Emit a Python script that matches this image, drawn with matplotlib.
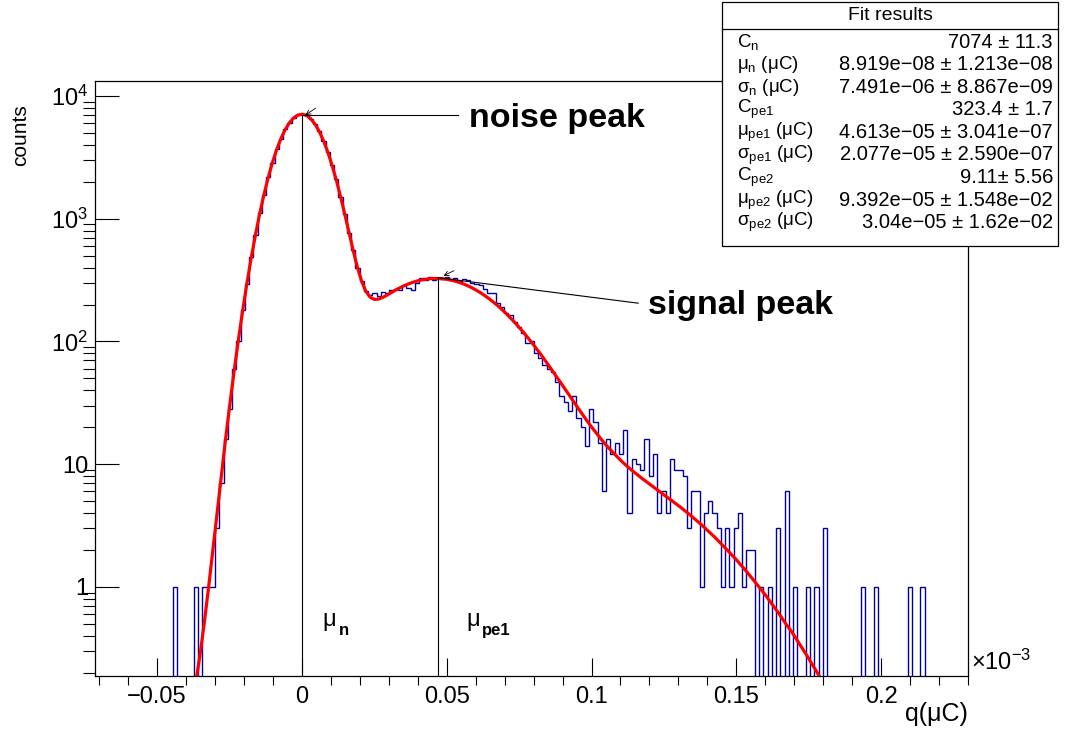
import numpy as np
import matplotlib
matplotlib.use('Agg')
import matplotlib.pyplot as plt
from matplotlib.patches import Rectangle
from matplotlib.lines import Line2D

plt.rcParams['font.family'] = ['Liberation Sans', 'DejaVu Sans']
plt.rcParams['mathtext.fontset'] = 'custom'
plt.rcParams['mathtext.rm'] = 'Liberation Sans'
plt.rcParams['mathtext.it'] = 'Liberation Sans:italic'
plt.rcParams['mathtext.bf'] = 'Liberation Sans:bold'

# x axis is q in units of 1e-3 uC
bin_start = -0.0709
bin_width = 0.001466
n_bins = 205

hist_counts = [
    0, 0, 0, 0, 0, 0, 0, 0, 0, 0,
    0, 0, 0, 0, 0, 0, 0, 0, 1, 0,
    0, 0, 0, 1, 0, 1, 1, 1, 3, 7,
    16, 28, 60, 100, 182, 296, 490, 735, 1110, 1560,
    2190, 2860, 3690, 4480, 5340, 6050, 6650, 6980, 7080, 6960,
    6500, 5880, 5160, 4300, 3520, 2730, 2090, 1510, 1100, 765,
    555, 395, 312, 258, 238, 250, 235, 255, 248, 262,
    268, 262, 290, 275, 262, 298, 330, 315, 335, 318,
    330, 322, 335, 318, 328, 312, 325, 318, 300, 295,
    290, 268, 250, 246, 205, 190, 172, 165, 145, 132,
    118, 97, 100, 80, 73, 64, 60, 56, 47, 36,
    32, 27, 36, 24, 20, 14, 28, 22, 15, 6,
    16, 12, 15, 12, 19, 4, 11, 10, 9, 16,
    8, 12, 4, 6, 4, 11, 9, 9, 8, 3,
    6, 6, 1, 4, 5, 4, 3, 1, 3, 1,
    3, 4, 1, 2, 2, 0, 1, 0, 1, 0,
    3, 0, 6, 0, 1, 0, 0, 1, 0, 1,
    0, 3, 0, 0, 0, 0, 0, 0, 0, 0,
    1, 0, 0, 1, 0, 0, 0, 0, 0, 0,
    0, 1, 0, 0, 1, 0, 0, 0, 0, 0,
    0, 0, 0, 0, 0,
]

# fit curve, read at the bin centres starting at bin 23
fit_first_bin = 23
fit_curve = [
    0.171, 0.288, 0.527, 1.02, 2.05, 4.16, 8.37, 16.5, 31.5, 58.3,
    104.5, 180.3, 300, 480, 741, 1102, 1578, 2171, 2877, 3671,
    4507, 5327, 6062, 6640, 6998, 7102, 6952, 6521, 5904, 5149,
    4326, 3504, 2741, 2075, 1524, 1093, 774, 549, 400, 307.6,
    255, 229, 220.1, 221.6, 228.7, 238.9, 250.4, 262.3, 273.7, 284.5,
    294.3, 303.0, 310.5, 316.6, 321.3, 324.4, 325.9, 325.8, 324.2, 320.9,
    316.1, 310.0, 302.4, 293.7, 283.8, 272.9, 261.3, 248.9, 236.0, 222.6,
    209.1, 195.6, 182.0, 168.7, 155.6, 143.1, 130.9, 119.4, 108.4, 98.1,
    88.5, 79.6, 71.3, 63.8, 56.9, 50.8, 45.2, 40.2, 35.8, 31.8,
    28.35, 25.3, 22.6, 20.3, 18.3, 16.55, 15.0, 13.7, 12.6, 11.6,
    10.7, 9.94, 9.27, 8.67, 8.14, 7.64, 7.20, 6.78, 6.39, 6.03,
    5.69, 5.36, 5.05, 4.75, 4.47, 4.19, 3.93, 3.67, 3.43, 3.20,
    2.97, 2.76, 2.56, 2.36, 2.18, 2.00, 1.84, 1.69, 1.54, 1.41,
    1.28, 1.16, 1.05, 0.95, 0.86, 0.77, 0.69, 0.62, 0.55, 0.49,
    0.44, 0.39, 0.344, 0.304, 0.268, 0.235, 0.206, 0.180,
]

x_ticks = [-0.05, 0, 0.05, 0.1, 0.15, 0.2]
x_tick_labels = ['\u22120.05', '0', '0.05', '0.1', '0.15', '0.2']
y_ticks = [1, 10, 100, 1000, 10000]
y_tick_labels = ['1', '10', '10$^{2}$', '10$^{3}$', '10$^{4}$']

peak_names = ['noise peak', 'signal peak']
peak_x = [0.0, 0.047]
peak_y = [7000, 331]

fit_labels = [r'C$_\mathrm{n}$', r'μ$_\mathrm{n}$ (μC)', r'σ$_\mathrm{n}$ (μC)',
              r'C$_\mathrm{pe1}$', r'μ$_\mathrm{pe1}$ (μC)', r'σ$_\mathrm{pe1}$ (μC)',
              r'C$_\mathrm{pe2}$', r'μ$_\mathrm{pe2}$ (μC)', r'σ$_\mathrm{pe2}$ (μC)']
fit_results = ['7074 ± 11.3', '8.919e\u221208 ± 1.213e\u221208', '7.491e\u221206 ± 8.867e\u221209',
               '323.4 ± 1.7', '4.613e\u221205 ± 3.041e\u221207', '2.077e\u221205 ± 2.590e\u221207',
               '9.11± 5.56', '9.392e\u221205 ± 1.548e\u221202', '3.04e\u221205 ± 1.62e\u221202']

W, H = 1065, 733
fx = lambda px: px / W
fy = lambda py: 1 - py / H

fig = plt.figure(figsize=(W / 100, H / 100), dpi=100)
ax = fig.add_axes([fx(95), fy(676), (968.3 - 95) / W, (676 - 80.7) / H])
y_bottom, y_top = 0.188, 13320
ax.set_yscale('log')
ax.set_xlim(-0.0713, 0.2299)
ax.set_ylim(y_bottom, y_top)

edges = bin_start + bin_width * np.arange(n_bins + 1)
centers = 0.5 * (edges[:-1] + edges[1:])
counts = np.array(hist_counts, dtype=float)
ax.stairs(np.where(counts > 0, counts, 1e-3), edges, baseline=1e-3,
          color='#0000a0', lw=1.0, zorder=2)

fit_x = centers[fit_first_bin:fit_first_bin + len(fit_curve)]
ax.plot(fit_x, fit_curve, color='#ff0000', lw=2.3, zorder=3)

# peak markers
for px_, py_ in zip(peak_x, peak_y):
    ax.plot([px_, px_], [y_bottom, py_], color='black', lw=0.8, zorder=4)
ax.plot([peak_x[0], 0.0539], [peak_y[0], peak_y[0]], color='black', lw=0.8, zorder=4)
ax.plot([peak_x[1], 0.1161], [peak_y[1], 205], color='black', lw=0.8, zorder=4)
ax.annotate('', xy=(0.0005, 6800), xytext=(0.0056, 8180),
            arrowprops=dict(arrowstyle='->', lw=0.6, color='black', mutation_scale=8))
ax.annotate('', xy=(0.0481, 335), xytext=(0.0534, 386),
            arrowprops=dict(arrowstyle='->', lw=0.6, color='black', mutation_scale=8))
ax.text(0.0577, 6500, peak_names[0], fontsize=24.5, fontweight='bold', va='center')
ax.text(0.1195, 195, peak_names[1], fontsize=24.5, fontweight='bold', va='center')

ax.text(0.007, 0.54, 'μ', fontsize=17, va='center')
ax.text(0.0127, 0.445, 'n', fontsize=12, fontweight='bold', va='center')
ax.text(0.0567, 0.54, 'μ', fontsize=17, va='center')
ax.text(0.0622, 0.445, 'pe1', fontsize=12, fontweight='bold', va='center')

ax.set_xticks(x_ticks)
ax.set_xticklabels(x_tick_labels)
ax.set_xticks(np.arange(-0.07, 0.23, 0.01), minor=True)
ax.set_yticks(y_ticks)
ax.set_yticklabels(y_tick_labels)
ax.tick_params(direction='in', top=False, right=False, labelsize=17, width=0.8)
ax.tick_params(axis='x', which='major', length=12.7, pad=7)
ax.tick_params(axis='x', which='minor', length=6.5, width=0.8)
ax.tick_params(axis='y', which='major', length=17.3, pad=5)
ax.tick_params(axis='y', which='minor', length=8.6, width=0.8)
for s in ax.spines.values():
    s.set_linewidth(0.9)

fig.text(fx(21), fy(104), 'counts', rotation=90, ha='center', va='top', fontsize=15)
fig.text(fx(968), fy(714), 'q(μC)', ha='right', va='center', fontsize=18)
fig.text(fx(971), fy(662), '×10$^{-3}$', ha='left', va='center', fontsize=17)

# fit results box
bx0, bx1, by0, by1 = 721.5, 1058, 2, 246
fig.add_artist(Rectangle((fx(bx0), fy(by1)), (bx1 - bx0) / W, (by1 - by0) / H,
                         transform=fig.transFigure, facecolor='white', edgecolor='black',
                         lw=0.9, zorder=5))
fig.add_artist(Line2D([fx(bx0), fx(bx1)], [fy(29), fy(29)], transform=fig.transFigure,
                      color='black', lw=0.9, zorder=6))
fig.text(fx(890), fy(16), 'Fit results', ha='center', va='center', fontsize=14, zorder=7)
for i, (lab, val) in enumerate(zip(fit_labels, fit_results)):
    yy = fy(42 + 22.6 * i)
    fig.text(fx(737), yy, lab, ha='left', va='center', fontsize=13.5, zorder=7)
    fig.text(fx(1053), yy, val, ha='right', va='center', fontsize=14.5, zorder=7)

fig.savefig('out.png', dpi=100)
